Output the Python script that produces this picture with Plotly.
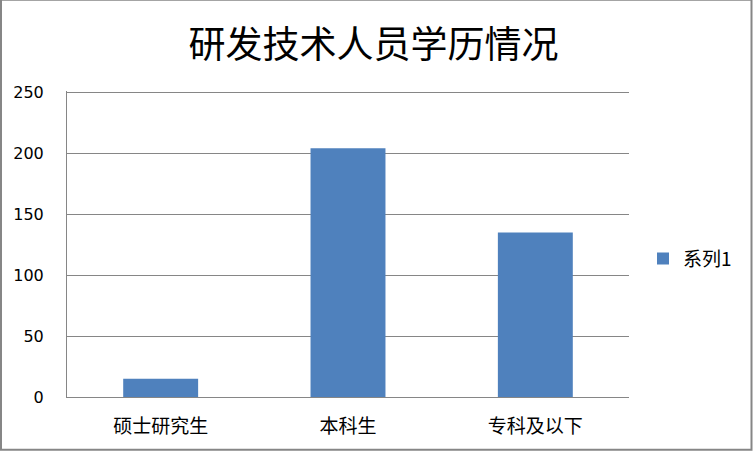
import plotly.graph_objects as go

categories = ["硕士研究生", "本科生", "专科及以下"]
values = [15, 204, 135]
series_name = "系列1"
title_text = "研发技术人员学历情况"
y_ticks = [0, 50, 100, 150, 200, 250]

W, H = 753, 451
L, R, T, B = 67, 124, 92, 54
pw, ph = W - L - R, H - T - B

font_cjk = "SimSun, 'Noto Sans CJK SC', sans-serif"
font_num = "'DejaVu Sans', Verdana, sans-serif"

fig = go.Figure()
fig.add_trace(go.Bar(
    x=categories, y=values, name=series_name,
    marker=dict(color="#4F81BD", line=dict(width=0)),
    width=0.4, showlegend=True,
))

fig.update_layout(
    width=W, height=H, autosize=False,
    margin=dict(l=L, r=R, t=T - 1, b=B, pad=0, autoexpand=False),
    paper_bgcolor="white", plot_bgcolor="white",
    title=dict(text=title_text, x=0.496, xref="container", xanchor="center",
               y=1 - 45 / H, yref="container", yanchor="middle",
               font=dict(family=font_cjk, size=37, color="black")),
    showlegend=True,
    legend=dict(x=(643 - L) / pw, xanchor="left", y=(397 - 259) / ph, yanchor="middle",
                font=dict(family=font_cjk, size=19, color="black"),
                bgcolor="rgba(0,0,0,0)", itemwidth=30),
    bargap=0.6,
    xaxis=dict(showline=True, linecolor="#868686", linewidth=1, ticks="",
               tickfont=dict(family=font_cjk, size=19, color="black"),
               ticklabelstandoff=12, showgrid=False, zeroline=False, automargin=False),
    yaxis=dict(range=[0, 251], tickvals=y_ticks, showline=True, linecolor="#868686",
               linewidth=1, showgrid=True, gridcolor="#868686", gridwidth=1,
               zeroline=False, ticks="", ticklabelstandoff=19, automargin=False,
               tickfont=dict(family=font_num, size=16, color="black")),
    shapes=[dict(type="rect", xref="paper", yref="paper",
                 x0=(1 - L) / pw, x1=(W - 1.5 - L) / pw,
                 y0=(397 - (H - 1.5)) / ph, y1=(397 - 1) / ph,
                 line=dict(color="#868686", width=2), fillcolor="rgba(0,0,0,0)",
                 layer="above")],
)

fig.write_html(
    "out.html",
    config={"responsive": False, "displayModeBar": False},
    default_width="753px", default_height="451px",
    post_script="document.body.style.margin='0';document.documentElement.style.overflow='hidden';document.body.style.overflow='hidden';",
)
